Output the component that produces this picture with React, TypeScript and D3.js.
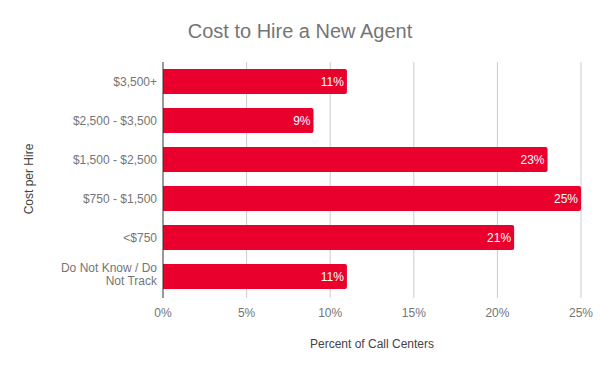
import React from "react";
import * as d3 from "d3";

const categories = ["$3,500+", "$2,500 - $3,500", "$1,500 - $2,500", "$750 - $1,500", "<$750", "Do Not Know / Do Not Track"];
const values = [11, 9, 23, 25, 21, 11];
const xTicks = [0, 5, 10, 15, 20, 25];
const title = "Cost to Hire a New Agent";
const xTitle = "Percent of Call Centers";
const yTitle = "Cost per Hire";

const W = 600, H = 371;
const m = { left: 163, right: 19, top: 62, bottom: 75 };
const FONT = "Arial, 'Liberation Sans', sans-serif";
const GREY = "#757575";
const RED = "#e9002c";

function wrapLabel(s: string): string[] {
  if (s.length > 18) {
    const idx = s.lastIndexOf(" ", 16);
    return [s.slice(0, idx), s.slice(idx + 1)];
  }
  return [s];
}

export default function App() {
  const x = d3.scaleLinear().domain([0, 25]).range([m.left, W - m.right]);
  const y = d3.scaleBand().domain(categories).range([m.top, H - m.bottom]).paddingInner(0.36).paddingOuter(0.18);
  const bw = y.bandwidth();
  const r = 2;
  return (
    <svg width={W} height={H} style={{ position: "absolute", left: 0, top: 0, fontFamily: FONT }}>
      <rect width={W} height={H} fill="#fff" />
      <text x={300} y={38} textAnchor="middle" fontSize={20} fill={GREY}>{title}</text>
      {xTicks.map((t) => (
        <g key={t}>
          {t !== 0 && <line x1={x(t)} x2={x(t)} y1={m.top} y2={H - m.bottom + 2} stroke="#cccccc" strokeWidth={1} />}
          <text x={x(t)} y={317} textAnchor="middle" fontSize={12} fill={GREY}>{t + "%"}</text>
        </g>
      ))}
      {categories.map((c, i) => {
        const y0 = y(c)!;
        const x0 = x(0);
        const x1 = x(values[i]);
        const path = `M${x0},${y0}H${x1 - r}Q${x1},${y0} ${x1},${y0 + r}V${y0 + bw - r}Q${x1},${y0 + bw} ${x1 - r},${y0 + bw}H${x0}Z`;
        const lines = wrapLabel(c);
        const n = lines.length;
        const cy = y0 + bw / 2;
        return (
          <g key={c}>
            <path d={path} fill={RED} />
            <text x={x1 - 3} y={cy + 4} textAnchor="end" fontSize={12} fill="#fff">{values[i] + "%"}</text>
            {lines.map((l, j) => (
              <text key={j} x={157} y={cy + 4 + (j - (n - 1) / 2) * 13 - (n > 1 ? 2 : 0)} textAnchor="end" fontSize={12} fill={GREY}>{l}</text>
            ))}
          </g>
        );
      })}
      <line x1={x(0)} x2={x(0)} y1={m.top} y2={H - m.bottom + 2} stroke="#333333" strokeWidth={1} />
      <text x={372} y={348} textAnchor="middle" fontSize={12} fill="#444">{xTitle}</text>
      <text transform={`translate(33,${(m.top + H - m.bottom) / 2}) rotate(-90)`} textAnchor="middle" fontSize={12} fill="#444">{yTitle}</text>
    </svg>
  );
}
